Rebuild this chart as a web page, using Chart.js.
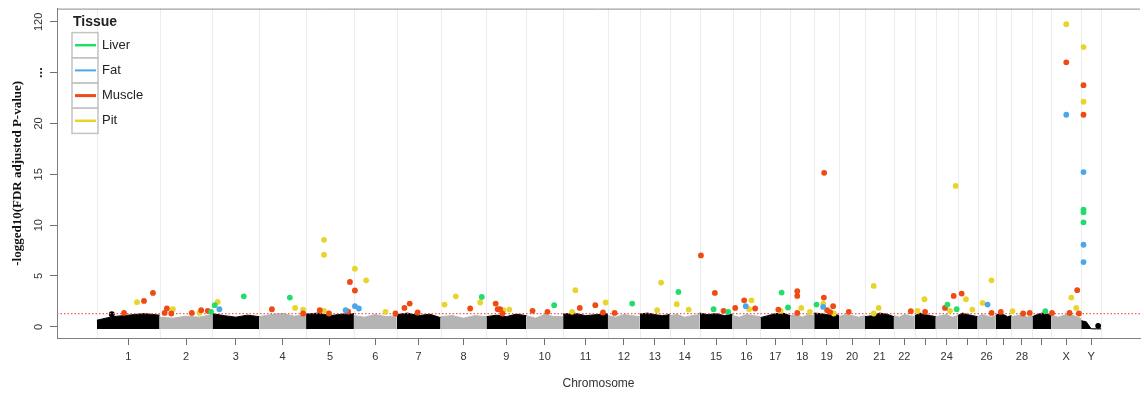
<!DOCTYPE html>
<html>
<head>
<meta charset="utf-8">
<script src="https://cdn.jsdelivr.net/npm/chart.js@4.4.1/dist/chart.umd.min.js"></script>
<style>
  html, body { margin: 0; padding: 0; background: #fff; }
  canvas { display: block; }
</style>
</head>
<body>
<canvas id="manhattan" width="1144" height="396"></canvas>
<script>
/* Chromosomes: cumulative boundaries along the genome axis (plot units) */
const chrNames = ['1','2','3','4','5','6','7','8','9','10','11','12','13','14','15','16',
                  '17','18','19','20','21','22','23','24','25','26','27','28','29','X','Y'];
const chrHidden = ['23','25','27','29'];
const chrBounds = [40,103,156,203,250,298,341,385,431,471,508,553,585,615,645,678,
                   706,736,760,785,811,840,861,882,904,924,942,958,979,998,1028,1048];

/* non-significant sites: upper edge of the dense band, 5 reads per chromosome */
const bandTop = [
  [0.65,1.0,1.15,1.3,1.15], [0.95,0.85,1.05,0.95,1.2], [1.3,1.1,0.95,1.15,1.0], [1.0,1.2,1.3,1.05,1.2],
  [1.25,1.35,1.1,1.25,1.3], [1.1,0.95,1.2,1.0,1.1], [1.2,1.35,1.1,1.25,0.9], [1.0,1.1,0.85,1.1,1.0],
  [1.0,1.15,1.0,1.25,1.1], [1.1,0.85,1.2,1.0,1.0], [1.25,1.35,1.1,1.2,1.3], [1.1,0.95,1.2,1.1,1.0],
  [1.25,1.35,1.2,1.1,1.2], [1.1,1.2,0.95,1.1,1.2], [1.35,1.2,1.3,1.1,1.25], [1.1,0.95,1.2,1.1,1.0],
  [0.9,1.1,1.3,1.35,1.1], [1.1,1.2,0.95,1.2,1.1], [1.35,1.3,1.2,1.35,1.1], [1.0,1.2,1.1,0.95,1.1],
  [1.0,1.1,1.35,1.25,1.0], [1.1,0.95,1.2,1.1,1.0], [1.1,1.35,1.2,1.1,1.0], [1.0,1.1,1.2,0.95,1.1],
  [1.1,1.35,1.2,1.1,1.0], [1.0,1.2,1.1,0.95,1.1], [1.1,1.35,1.2,1.0,1.1], [1.0,1.1,1.2,0.95,1.1],
  [1.0,1.2,1.35,1.3,1.1], [1.1,0.95,1.2,1.1,0.8], [0.6,0.5,-0.2,-0.2,-0.2]
];
const bandFloor = -0.22;
const otherPos = [55, 1045];
const otherVal = [1.24, 0.1];

/* significant sites per tissue: genome position and -log10(FDR p) */
const liverPos = [154.7,158.3,187.5,233.7,426.3,499,577.3,623.7,659,673.7,727.3,733.7,762.3,893.7,903,992,1030.3,1030.3,1030.3];
const liverVal = [1.47,2.13,3.0,2.88,2.94,2.13,2.29,3.43,1.73,1.47,3.37,1.9,2.19,2.19,1.73,1.54,11.53,11.26,10.28];

const fatPos = [163,289.7,299,303,691.3,769,934,1013,1030.3,1030.3,1030.3];
const fatVal = [1.73,1.63,2.03,1.8,2.03,1.96,2.19,28.6,15.22,8.07,6.37];

const musclePos = [67.3,87.3,96.3,108,110.3,114.7,135.3,144.7,151.3,215.7,247,263.7,273,292.3,294,299,
                   339.7,348.7,354,362,414.7,440.3,442.3,444.7,447,477.3,492.3,524.7,540.3,548,559.7,
                   646.3,660.3,669,680.7,689.7,700.7,724,743,743,743,769.7,770,773,776,779,794.7,
                   857,871.3,891.3,900,908,938,947.3,969.7,976.3,998.7,1013,1016.3,1024,1025.7,1030.3,1030.3];
const muscleVal = [1.37,2.55,3.33,1.37,1.8,1.31,1.37,1.63,1.57,1.73,1.31,1.63,1.31,1.5,4.41,3.57,
                   1.31,1.86,2.29,1.41,1.8,2.29,1.73,1.73,1.31,1.57,1.47,1.86,2.13,1.41,1.37,
                   7.02,3.33,1.57,1.86,2.61,1.8,1.7,3.5,3.04,1.37,2.88,15.15,1.63,1.45,2.03,1.47,
                   1.54,1.47,1.86,3.04,3.27,1.37,1.47,1.31,1.37,1.37,80.2,1.37,3.6,1.31,57.7,28.6];

const pitPos = [80.3,116.3,143,161.3,239,247,268,268,268,299,310.3,329.7,389,400.3,424.7,448,454,517,520.3,
                550.7,602.3,606.3,622,634,694.7,697,726.3,747,755.7,769,779.7,819.7,824.7,819.7,863.7,
                870.7,896.3,902,912.3,918.7,929,938,959,1018,1023,1013,1030.3,1030.3];
const pitVal = [2.42,1.73,1.37,2.45,1.86,1.7,1.57,8.56,7.09,5.72,4.57,1.47,2.19,3.0,2.39,1.63,1.7,1.47,3.6,
                2.39,1.63,4.35,2.22,1.7,1.73,2.61,1.57,1.86,1.47,2.29,1.31,4.02,1.86,1.31,1.57,
                2.71,1.57,13.86,2.71,1.7,2.35,4.57,1.54,2.88,1.86,117.7,95.2,41.4];

const threshold = 1.3;   // -log10(0.05)

/* broken y axis: 0-20 linear, above 20 compressed so that 120 sits at 30 */
const yTickVals = [0, 5, 10, 15, 20, 25, 30];
const yTickLabels = ['0', '5', '10', '15', '20', '...', '120'];
function brk(v) { return v > 20 ? 20 + (v - 20) / 10 : v; }

const tissues = [
  { label: 'Liver',  color: '#22dd6a', pos: liverPos,  val: liverVal,  lw: 2.5 },
  { label: 'Fat',    color: '#4ea6ea', pos: fatPos,    val: fatVal,    lw: 2 },
  { label: 'Muscle', color: '#ee4a12', pos: musclePos, val: muscleVal, lw: 3 },
  { label: 'Pit',    color: '#e8d52c', pos: pitPos,    val: pitVal,    lw: 2.5 }
];

const chrMid = chrNames.map((n, i) => (chrBounds[i] + chrBounds[i + 1]) / 2);

const datasets = [];
tissues.forEach(t => {
  datasets.push({
    type: 'scatter',
    label: t.label,
    data: t.pos.map((p, i) => ({ x: p, y: brk(t.val[i]) })),
    backgroundColor: t.color,
    borderWidth: 0,
    pointRadius: 2.9,
    order: 0
  });
});
datasets.push({
  type: 'scatter', label: 'other',
  data: otherPos.map((p, i) => ({ x: p, y: otherVal[i] })),
  backgroundColor: '#000', borderWidth: 0, pointRadius: 2.9, order: 1
});
datasets.push({
  type: 'line', label: 'FDR 0.05',
  data: [{ x: 0, y: threshold }, { x: 1087, y: threshold }],
  borderColor: '#f25c5c', borderWidth: 1.2, borderDash: [1.5, 2],
  pointRadius: 0, fill: false, order: 0
});
chrNames.forEach((n, c) => {
  const a = chrBounds[c], b = chrBounds[c + 1];
  const col = c % 2 === 0 ? '#000000' : '#b4b4b4';
  datasets.push({
    type: 'line', label: 'chr' + n,
    data: bandTop[c].map((h, k) => ({ x: a + (b - a) * k / 4, y: h })),
    borderColor: col, backgroundColor: col, borderWidth: 1,
    pointRadius: 0, tension: 0, fill: { value: bandFloor }, order: 3
  });
});

const frame = {
  id: 'frame',
  beforeDatasetsDraw(chart) {
    const { ctx, chartArea: a, scales: { x } } = chart;
    ctx.save();
    ctx.strokeStyle = '#ececec';
    ctx.lineWidth = 1;
    chrBounds.forEach(v => {
      const px = Math.round(x.getPixelForValue(v)) + 0.5;
      ctx.beginPath(); ctx.moveTo(px, a.top); ctx.lineTo(px, a.bottom); ctx.stroke();
    });
    ctx.strokeStyle = '#8a8a8a';
    ctx.beginPath(); ctx.moveTo(a.left, a.top + 0.5); ctx.lineTo(a.right, a.top + 0.5); ctx.stroke();
    ctx.restore();
  }
};

const tissueLegend = {
  id: 'tissueLegend',
  afterDraw(chart) {
    const { ctx, chartArea: a } = chart;
    const x0 = a.left + 15, y0 = a.top + 24, w = 26, h = 25.2;
    ctx.save();
    ctx.fillStyle = '#222';
    ctx.font = 'bold 14px "Liberation Sans", Arial, sans-serif';
    ctx.textBaseline = 'middle';
    ctx.fillText('Tissue', a.left + 16, a.top + 13.5);
    ctx.font = '13px "Liberation Sans", Arial, sans-serif';
    tissues.forEach((t, i) => {
      const y = y0 + i * h;
      ctx.strokeStyle = '#c4c4c4';
      ctx.lineWidth = 1.5;
      ctx.strokeRect(x0, y, w, h);
      ctx.strokeStyle = t.color;
      ctx.lineWidth = t.lw;
      ctx.beginPath(); ctx.moveTo(x0 + 3, y + h / 2); ctx.lineTo(x0 + w - 2, y + h / 2); ctx.stroke();
      ctx.fillStyle = '#222';
      ctx.fillText(t.label, x0 + 30, y + h / 2);
    });
    ctx.restore();
  }
};

Chart.defaults.font.family = '"Liberation Sans", Arial, sans-serif';

new Chart(document.getElementById('manhattan'), {
  type: 'scatter',
  data: { datasets: datasets },
  plugins: [frame, tissueLegend],
  options: {
    responsive: false,
    animation: false,
    events: [],
    layout: { padding: { top: 7, left: 0, right: 0, bottom: 0 } },
    plugins: { legend: { display: false }, tooltip: { enabled: false } },
    scales: {
      x: {
        type: 'linear', min: 0, max: 1087,
        afterBuildTicks: s => { s.ticks = chrMid.map(v => ({ value: v })); },
        afterFit: s => { s.height = 58; },
        grid: { drawOnChartArea: false, tickLength: 7, tickColor: '#707070' },
        border: { color: '#7f7f7f' },
        ticks: {
          autoSkip: false, maxRotation: 0, padding: 5, color: '#333', font: { size: 11 },
          callback: (v, i) => chrHidden.includes(chrNames[i]) ? '' : chrNames[i]
        },
        title: { display: true, text: 'Chromosome', color: '#333', font: { size: 12 }, padding: { top: 0, bottom: 5 } }
      },
      y: {
        type: 'linear', min: -1.1, max: 31.3,
        afterBuildTicks: s => { s.ticks = yTickVals.map(v => ({ value: v })); },
        afterFit: s => { s.width = 57; },
        grid: { drawOnChartArea: false, tickLength: 7, tickColor: '#707070' },
        border: { color: '#7f7f7f' },
        ticks: {
          minRotation: 90, maxRotation: 90, crossAlign: 'center', padding: 2,
          color: '#333',
          font: c => c.index === 5 ? { size: 13, weight: 'bold' } : { size: 11 },
          callback: (v, i) => yTickLabels[i]
        },
        title: {
          display: true, text: '-logged10(FDR adjusted P-value)', color: '#111',
          font: { family: '"Liberation Serif", "Times New Roman", serif', size: 13, weight: 'bold' },
          padding: { top: 10, bottom: 0 }
        }
      }
    }
  }
});
</script>
</body>
</html>
